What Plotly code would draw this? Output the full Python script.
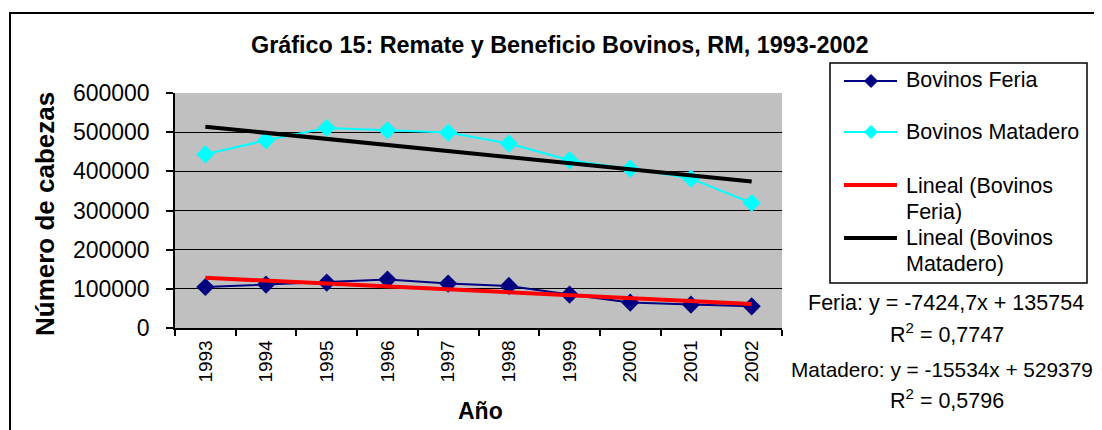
import plotly.graph_objects as go

# ---- data ----
years = ["1993", "1994", "1995", "1996", "1997", "1998", "1999", "2000", "2001", "2002"]
feria = [104700, 110800, 115900, 123600, 113400, 107500, 85300, 64900, 59700, 55400]
matadero = [443500, 479200, 510600, 504700, 498900, 470800, 428100, 406900, 381400, 319100]
feria_slope, feria_intercept = -7424.7, 135754
matadero_slope, matadero_intercept = -15534, 529379
y_ticks = [0, 100000, 200000, 300000, 400000, 500000, 600000]
series_names = ["Bovinos Feria", "Bovinos Matadero", "Lineal (Bovinos Feria)", "Lineal (Bovinos Matadero)"]

idx = list(range(1, len(years) + 1))
trend_feria = [feria_slope * i + feria_intercept for i in idx]
trend_matadero = [matadero_slope * i + matadero_intercept for i in idx]

OFF = 8  # default page body margin
W, H = 1102 - OFF, 430 - OFF
PL, PR, PT, PB = 175, 782, 93, 328   # plot area in page pixels
FONT = "Arial, Liberation Sans, sans-serif"
NAVY, CYAN, RED, BLACK = "#000080", "#00FFFF", "#FF0000", "#000000"


def px(x):
    return (x - PL) / (PR - PL)


def py(y):
    return (PB - y) / (PB - PT)


fig = go.Figure()
fig.add_trace(go.Scatter(x=years, y=feria, name=series_names[0], mode="lines+markers",
                         line=dict(color=NAVY, width=2),
                         marker=dict(symbol="diamond", size=14, color=NAVY)))
fig.add_trace(go.Scatter(x=years, y=matadero, name=series_names[1], mode="lines+markers",
                         line=dict(color=CYAN, width=2),
                         marker=dict(symbol="diamond", size=14, color=CYAN)))
fig.add_trace(go.Scatter(x=years, y=trend_feria, name=series_names[2], mode="lines",
                         line=dict(color=RED, width=4)))
fig.add_trace(go.Scatter(x=years, y=trend_matadero, name=series_names[3], mode="lines",
                         line=dict(color=BLACK, width=4)))

fig.update_layout(
    width=W, height=H,
    margin=dict(l=PL - OFF, r=W - (PR - OFF), t=PT - OFF, b=H - (PB - OFF)),
    paper_bgcolor="white",
    plot_bgcolor="#C0C0C0",
    font=dict(family=FONT, color="black", size=21),
    showlegend=False,
    xaxis=dict(type="category", showgrid=False, showline=True, linecolor="black", linewidth=1.5,
               ticks="outside", ticklen=6, tickcolor="black", tickwidth=1.5,
               tickson="boundaries", tickangle=-90, tickfont=dict(size=19),
               ticklabelstandoff=3, range=[-0.5, len(years) - 0.5]),
    yaxis=dict(range=[0, 600000], tickvals=y_ticks, tickformat="d",
               showgrid=True, gridcolor="black", gridwidth=1,
               showline=True, linecolor="black", linewidth=1.5,
               ticks="outside", ticklen=7, tickcolor="black", tickwidth=1.5,
               tickfont=dict(size=23), ticklabelstandoff=12, zeroline=False),
)

ann = [
    dict(text="<b>Gráfico 15: Remate y Beneficio Bovinos, RM, 1993-2002</b>", x=px(560), y=py(45),
         font=dict(size=23.4), xanchor="center", yanchor="middle"),
    dict(text="<b>Número de cabezas</b>", x=px(45), y=py(214), textangle=-90,
         font=dict(size=26), xanchor="center", yanchor="middle"),
    dict(text="<b>Año</b>", x=px(480), y=py(411), font=dict(size=23), xanchor="center", yanchor="middle"),
    dict(text="Feria: y = -7424,7x + 135754", x=px(946), y=py(303), font=dict(size=21.5),
         xanchor="center", yanchor="middle"),
    dict(text="R<sup>2</sup> = 0,7747", x=px(947), y=py(333), font=dict(size=21.5),
         xanchor="center", yanchor="middle"),
    dict(text="Matadero: y = -15534x + 529379", x=px(789), y=py(369), font=dict(size=20.8),
         xanchor="left", yanchor="middle"),
    dict(text="R<sup>2</sup> = 0,5796", x=px(947), y=py(399), font=dict(size=21.5),
         xanchor="center", yanchor="middle"),
]

# ---- legend (drawn manually to match the wrapped layout) ----
fig.add_shape(type="rect", xref="paper", yref="paper", x0=px(830), x1=px(1087), y0=py(283), y1=py(63),
              line=dict(color="black", width=1.5), fillcolor="white", layer="above")
legend_rows = [
    (NAVY, 2, True, 81, ["Bovinos Feria"], [80]),
    (CYAN, 2, True, 132, ["Bovinos Matadero"], [132]),
    (RED, 4, False, 185, ["Lineal (Bovinos", "Feria)"], [186, 212]),
    (BLACK, 4, False, 238, ["Lineal (Bovinos", "Matadero)"], [238, 264]),
]
for col, lw, has_marker, ly, lines, tys in legend_rows:
    fig.add_shape(type="line", xref="paper", yref="paper", x0=px(844), x1=px(897), y0=py(ly), y1=py(ly),
                  line=dict(color=col, width=lw), layer="above")
    if has_marker:
        cx, r = 871, 6.5
        path = (f"M {px(cx)},{py(ly - r)} L {px(cx + r)},{py(ly)} "
                f"L {px(cx)},{py(ly + r)} L {px(cx - r)},{py(ly)} Z")
        fig.add_shape(type="path", xref="paper", yref="paper", path=path,
                      fillcolor=col, line=dict(color=col, width=1), layer="above")
    for t, ty in zip(lines, tys):
        ann.append(dict(text=t, x=px(904), y=py(ty), font=dict(size=21.5), xanchor="left", yanchor="middle"))

for a in ann:
    fig.add_annotation(xref="paper", yref="paper", showarrow=False, **a)

fig.add_shape(type="rect", xref="paper", yref="paper", x0=px(10), x1=px(1115), y0=py(445), y1=py(13),
              line=dict(color="black", width=2), fillcolor="rgba(0,0,0,0)", layer="below")

fig.write_html("out.html")
